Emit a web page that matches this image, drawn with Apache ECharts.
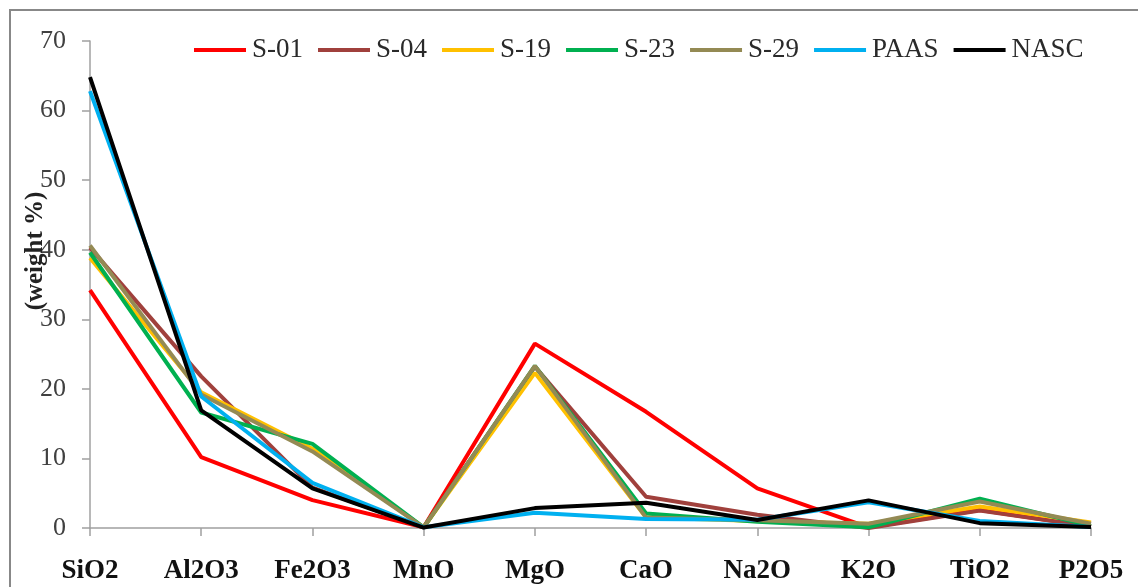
<!DOCTYPE html>
<html>
<head>
<meta charset="utf-8">
<script src="https://cdn.jsdelivr.net/npm/echarts@6/dist/echarts.min.js"></script>
<style>
html,body{margin:0;padding:0;background:#fff;}
#chart{width:1138px;height:587px;}
</style>
</head>
<body>
<div id="chart"></div>
<script>
var categories = ['SiO2','Al2O3','Fe2O3','MnO','MgO','CaO','Na2O','K2O','TiO2','P2O5'];
var yTicks = [0,10,20,30,40,50,60,70];
var seriesNames = ['S-01','S-04','S-19','S-23','S-29','PAAS','NASC'];
var s01  = [34.2, 10.2, 4.0, 0.1, 26.5, 16.7, 5.7, 0.1, 2.6, 0.2];
var s04  = [40.3, 21.8, 5.8, 0.1, 23.2, 4.5, 1.9, 0.0, 2.5, 0.2];
var s19  = [38.8, 19.5, 11.4, 0.1, 22.3, 1.5, 1.0, 0.6, 3.1, 0.8];
var s23  = [39.6, 16.6, 12.1, 0.1, 23.3, 2.1, 0.9, 0.1, 4.2, 0.3];
var s29  = [40.6, 19.2, 11.0, 0.1, 23.3, 1.5, 1.1, 0.6, 3.8, 0.6];
var paas = [62.8, 18.9, 6.5, 0.11, 2.2, 1.3, 1.2, 3.7, 1.0, 0.16];
var nasc = [64.8, 16.9, 5.7, 0.06, 2.86, 3.63, 1.14, 3.97, 0.7, 0.13];

var dataList = [s01, s04, s19, s23, s29, paas, nasc];
var colors = ['#FF0000','#A0403C','#FFC000','#00B050','#948A54','#00B0F0','#000000'];
var serif = '"Liberation Serif", "Times New Roman", serif';

var chart = echarts.init(document.getElementById('chart'));
var series = seriesNames.map(function(n, i){
  return {
    name: n, type: 'line', data: dataList[i],
    showSymbol: false, symbol: 'none',
    lineStyle: {color: colors[i], width: 4},
    itemStyle: {color: colors[i]},
    z: 2 + i
  };
});

chart.setOption({
  animation: false,
  backgroundColor: '#fff',
  grid: {left: 90, right: 47, top: 41, bottom: 59, containLabel: false},
  legend: {
    data: seriesNames,
    left: 189, top: 31,
    icon: 'rect', itemWidth: 52, itemHeight: 4, itemGap: 15,
    textStyle: {fontFamily: serif, fontSize: 27, color: '#2a2a2a', lineHeight: 28, padding: [0,0,0,1]}
  },
  xAxis: {
    type: 'category', data: categories, boundaryGap: false,
    axisLine: {lineStyle: {color: '#A0A0A0', width: 1.5}},
    axisTick: {show: true, length: 8, lineStyle: {color: '#A0A0A0', width: 1.5}},
    axisLabel: {fontFamily: serif, fontSize: 27, fontWeight: 'bold', color: '#111', margin: 30, interval: 0},
    splitLine: {show: false}
  },
  yAxis: {
    type: 'value', min: yTicks[0], max: yTicks[yTicks.length-1], interval: 10,
    axisLine: {show: true, lineStyle: {color: '#A0A0A0', width: 1.5}},
    axisTick: {show: true, length: 8, lineStyle: {color: '#A0A0A0', width: 1.5}},
    axisLabel: {fontFamily: serif, fontSize: 26, color: '#404040', margin: 24},
    splitLine: {show: false}
  },
  graphic: [
    {type: 'rect', shape: {x: 10, y: 10, width: 1200, height: 700},
     style: {fill: 'none', stroke: '#888', lineWidth: 2}, silent: true, z: 100},
    {type: 'text', x: 36, y: 251, rotation: Math.PI/2,
     style: {text: '(weight %)', font: 'bold 25px "Liberation Serif", serif', fill: '#222',
             textAlign: 'center', textVerticalAlign: 'middle'}, z: 100}
  ],
  series: series
});
</script>
</body>
</html>
